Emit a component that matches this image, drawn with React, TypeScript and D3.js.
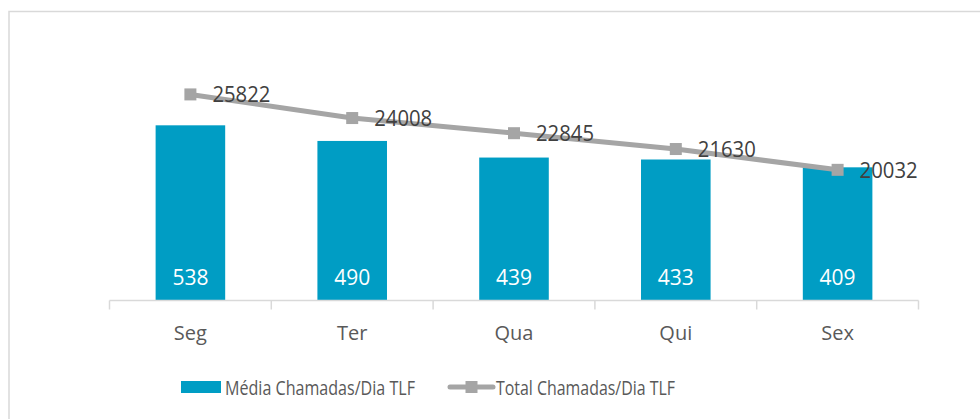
import React from "react";
import * as d3 from "d3";

const categories = ["Seg", "Ter", "Qua", "Qui", "Sex"];
const mediaValues = [538, 490, 439, 433, 409];
const totalValues = [25822, 24008, 22845, 21630, 20032];
const seriesNames = ["Média Chamadas/Dia TLF", "Total Chamadas/Dia TLF"];

const W = 980;
const H = 419;
const FONT = "'Open Sans', 'Noto Sans', sans-serif";

export default function App() {
  const left = 109.5;
  const right = 918.5;
  const top = 40;
  const bottom = 300.5;

  const x = d3.scaleBand<string>().domain(categories).range([left, right]).paddingInner(0).paddingOuter(0);
  const yBar = d3.scaleLinear().domain([0, 800]).range([bottom, top]);
  const yLine = d3.scaleLinear().domain([10000, 30000]).range([bottom, top]);
  const barW = x.bandwidth() * 0.43;
  const cx = (c: string) => (x(c) as number) + x.bandwidth() / 2;

  const linePath = d3
    .line<number>()
    .x((_, i) => cx(categories[i]))
    .y((d) => yLine(d))(totalValues) as string;

  const ticks = [...categories.map((c) => x(c) as number), right];

  return (
    <svg width={W} height={H} style={{ position: "absolute", left: 0, top: 0, background: "#fff" }}>
      <rect x={9} y={11.5} width={W + 10} height={H + 10} fill="#fff" stroke="#d9d9d9" strokeWidth={1.5} />
      {categories.map((c, i) => (
        <rect key={c} x={cx(c) - barW / 2} y={yBar(mediaValues[i])} width={barW} height={bottom - yBar(mediaValues[i])} fill="#009DC4" />
      ))}
      <line x1={left} x2={right} y1={bottom} y2={bottom} stroke="#d9d9d9" strokeWidth={1.5} />
      {ticks.map((t, i) => (
        <line key={i} x1={t} x2={t} y1={bottom} y2={bottom + 9} stroke="#d9d9d9" strokeWidth={1.5} />
      ))}
      <path d={linePath} fill="none" stroke="#A5A5A5" strokeWidth={5} strokeLinejoin="round" />
      {categories.map((c, i) => (
        <rect key={c} x={cx(c) - 6} y={yLine(totalValues[i]) - 6} width={12} height={12} fill="#A5A5A5" />
      ))}
      {categories.map((c, i) => (
        <text key={c} x={cx(c)} y={277} fill="#fff" fontFamily={FONT} fontSize={21} textAnchor="middle" dominantBaseline="central" textLength={36} lengthAdjust="spacingAndGlyphs">
          {mediaValues[i]}
        </text>
      ))}
      {categories.map((c, i) => (
        <text key={c} x={cx(c) + 22} y={yLine(totalValues[i])} fill="#404040" fontFamily={FONT} fontSize={21} dominantBaseline="central" textLength={58} lengthAdjust="spacingAndGlyphs">
          {totalValues[i]}
        </text>
      ))}
      {categories.map((c) => (
        <text key={c} x={cx(c)} y={332} fill="#595959" fontFamily={FONT} fontSize={20} textAnchor="middle" dominantBaseline="central">
          {c}
        </text>
      ))}
      <rect x={181} y={381} width={40} height={12} fill="#009DC4" />
      <text x={225} y={387} fill="#595959" fontFamily={FONT} fontSize={20} dominantBaseline="central" textLength={190} lengthAdjust="spacingAndGlyphs">
        {seriesNames[0]}
      </text>
      <line x1={450} x2={493} y1={387} y2={387} stroke="#A5A5A5" strokeWidth={5} strokeLinecap="round" />
      <rect x={465.5} y={381} width={12} height={12} fill="#A5A5A5" />
      <text x={496} y={387} fill="#595959" fontFamily={FONT} fontSize={20} dominantBaseline="central" textLength={179} lengthAdjust="spacingAndGlyphs">
        {seriesNames[1]}
      </text>
    </svg>
  );
}
